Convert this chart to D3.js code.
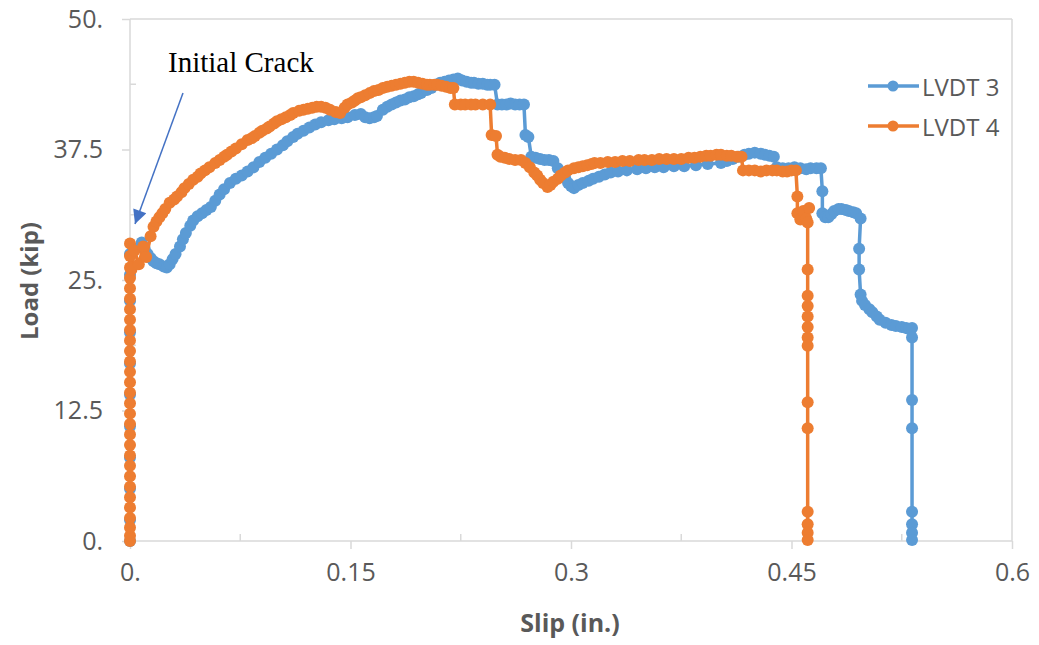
<!DOCTYPE html>
<html>
<head>
<meta charset="utf-8">
<script src="https://cdn.jsdelivr.net/npm/d3@7"></script>
<style>
body { margin: 0; background: #fff; }
text { font-family: "Open Sans", sans-serif; fill: #595959; }
</style>
</head>
<body>
<script>
// LVDT 3 (blue)
var slip3 = [0, 0, 0, 0, 0, 0, 0, 0, 0, 0, 0,
  0.003, 0.008, 0.010, 0.012, 0.014, 0.016, 0.018, 0.020, 0.023, 0.025, 0.027, 0.029, 0.031,
  0.034, 0.036, 0.038, 0.041, 0.043, 0.046, 0.049, 0.052, 0.055, 0.058, 0.061, 0.064, 0.068,
  0.072, 0.076, 0.080, 0.084, 0.088, 0.092, 0.096, 0.100, 0.104, 0.107, 0.111, 0.114, 0.118,
  0.122, 0.126, 0.130, 0.135, 0.139, 0.144, 0.148, 0.153, 0.157, 0.160, 0.163, 0.166, 0.168,
  0.172, 0.175, 0.178, 0.181, 0.184, 0.187, 0.190, 0.193, 0.196, 0.198, 0.202, 0.205, 0.208,
  0.211, 0.214, 0.217, 0.220, 0.223, 0.226, 0.229, 0.232, 0.234, 0.237, 0.240, 0.243, 0.245, 0.248,
  0.250, 0.253, 0.256, 0.259, 0.262, 0.265, 0.268, 0.269, 0.271, 0.273, 0.276, 0.279, 0.282, 0.285,
  0.288, 0.291, 0.293, 0.296, 0.298, 0.300, 0.302, 0.305, 0.308, 0.312, 0.315, 0.319, 0.323,
  0.327, 0.332, 0.338, 0.345, 0.351, 0.357, 0.363, 0.370, 0.377, 0.385, 0.393, 0.402, 0.406,
  0.410, 0.414, 0.418, 0.421, 0.425, 0.429, 0.432, 0.435, 0.438,
  0.440, 0.444, 0.448, 0.452, 0.456, 0.460, 0.463, 0.467, 0.470,
  0.471, 0.471, 0.473, 0.475, 0.477, 0.479, 0.482, 0.484, 0.487, 0.489, 0.492, 0.494, 0.497,
  0.496, 0.496, 0.497, 0.498, 0.500, 0.503, 0.505, 0.508, 0.510, 0.514, 0.518, 0.521, 0.525,
  0.528, 0.530, 0.532,
  0.532, 0.532, 0.532, 0.532, 0.532, 0.532, 0.532];
var load3 = [0, 2, 5, 8, 11, 14, 17, 20, 23, 25.5, 27.5,
  28.0, 28.6, 28.0, 27.5, 27.1, 26.8, 26.6, 26.5, 26.3, 26.2, 26.5, 27.0, 27.5,
  28.2, 28.9, 29.5, 30.2, 30.7, 31.1, 31.4, 31.7, 32.0, 32.6, 33.2, 33.7, 34.3,
  34.7, 35.0, 35.4, 35.8, 36.3, 36.7, 37.1, 37.5, 37.9, 38.3, 38.7, 39.0, 39.3,
  39.6, 39.9, 40.1, 40.3, 40.4, 40.5, 40.6, 40.8, 40.9, 40.6, 40.5, 40.6, 40.7,
  41.3, 41.6, 41.8, 42.0, 42.2, 42.3, 42.5, 42.6, 42.8, 42.9, 43.2, 43.4, 43.7,
  43.9, 44.0, 44.1, 44.2, 44.3, 44.1, 44.0, 43.9, 43.9, 43.8, 43.8, 43.7, 43.7, 43.7,
  41.8, 41.8, 41.8, 41.9, 41.8, 41.8, 41.8, 38.9, 38.7, 36.8, 36.7, 36.6, 36.5, 36.5,
  36.4, 35.7, 35.3, 34.8, 34.3, 34.0, 33.8, 34.1, 34.3, 34.5, 34.7, 34.9, 35.1,
  35.3, 35.4, 35.5, 35.6, 35.7, 35.8, 35.8, 35.9, 35.9, 36.0, 36.1, 36.2, 36.4,
  36.6, 36.8, 37.0, 37.1, 37.2, 37.1, 37.0, 36.9, 36.8,
  35.8, 35.7, 35.7, 35.8, 35.7, 35.6, 35.7, 35.7, 35.7,
  33.5, 31.4, 31.0, 31.0, 31.3, 31.6, 31.8, 31.8, 31.7, 31.6, 31.5, 31.4, 30.9,
  28.0, 26.0, 23.6, 23.0, 22.6, 22.2, 21.9, 21.5, 21.2, 20.9, 20.7, 20.6, 20.5,
  20.4, 20.3, 20.4,
  19.5, 13.5, 10.8, 2.8, 1.6, 0.8, 0.1];

// LVDT 4 (orange)
var slip4 = [0, 0, 0, 0, 0, 0, 0, 0, 0, 0, 0, 0, 0, 0, 0, 0, 0, 0, 0, 0,
  0, 0, 0, 0, 0, 0, 0, 0, 0, 0,
  0.001, 0.003, 0.006, 0.009, 0.011, 0.014, 0.016, 0.018, 0.020, 0.022, 0.024, 0.027, 0.030,
  0.032, 0.035, 0.037, 0.040, 0.043, 0.046, 0.048, 0.051, 0.054, 0.058, 0.061, 0.064, 0.066,
  0.069, 0.072, 0.076, 0.080, 0.083, 0.085, 0.088, 0.090, 0.093, 0.095, 0.098, 0.100, 0.103,
  0.106, 0.109, 0.111, 0.115, 0.118, 0.121, 0.124, 0.127, 0.130, 0.133, 0.136, 0.140, 0.143,
  0.146, 0.148, 0.151, 0.153, 0.155, 0.157, 0.160, 0.163, 0.166, 0.169, 0.172, 0.175, 0.178,
  0.181, 0.184, 0.187, 0.190, 0.193, 0.196, 0.199, 0.202, 0.204, 0.207, 0.209, 0.212, 0.215,
  0.218, 0.220,
  0.221, 0.225, 0.228, 0.232, 0.235, 0.240, 0.245, 0.246, 0.249, 0.250,
  0.252, 0.255, 0.258, 0.262, 0.266, 0.269, 0.272, 0.275, 0.277, 0.279, 0.281, 0.284, 0.286,
  0.288, 0.291, 0.293, 0.296, 0.298, 0.302, 0.305, 0.308, 0.311, 0.314, 0.316, 0.320, 0.325,
  0.330, 0.335, 0.340, 0.346, 0.350, 0.355, 0.360, 0.365, 0.370, 0.375, 0.380, 0.384, 0.388,
  0.392, 0.395, 0.399, 0.402, 0.406, 0.409, 0.413, 0.416,
  0.417, 0.421, 0.425, 0.429, 0.433, 0.437, 0.440, 0.444, 0.447, 0.450, 0.453,
  0.454, 0.454, 0.456, 0.458, 0.460, 0.462, 0.461,
  0.461, 0.461, 0.461, 0.461, 0.461, 0.461, 0.461, 0.461, 0.461, 0.461, 0.461, 0.461, 0.461];
var load4 = [0, 0.5, 1.3, 2.2, 3.2, 4.2, 5.2, 6.2, 7.2, 8.2, 9.2, 10.2, 11.2, 12.2, 13.2, 14.2,
  15.2, 16.2, 17.2, 18.2, 19.2, 20.2, 21.2, 22.2, 23.2, 24.2, 25.2, 26.2, 27.3, 28.5,
  26.0, 27.8, 26.5, 28.2, 27.2, 29.2, 30.1, 30.6, 31.0, 31.4, 31.8, 32.4, 32.7,
  33.0, 33.4, 33.8, 34.2, 34.6, 34.9, 35.2, 35.5, 35.8, 36.2, 36.5, 36.8, 37.0,
  37.3, 37.6, 38.0, 38.4, 38.6, 38.8, 39.1, 39.3, 39.5, 39.7, 40.0, 40.2, 40.4,
  40.6, 40.8, 41.0, 41.2, 41.3, 41.4, 41.5, 41.6, 41.6, 41.5, 41.3, 41.1, 41.0,
  41.5, 41.8, 42.0, 42.2, 42.4, 42.5, 42.7, 42.9, 43.1, 43.2, 43.4, 43.5, 43.6,
  43.7, 43.8, 43.9, 44.0, 44.0, 43.9, 43.8, 43.7, 43.7, 43.7, 43.7, 43.6, 43.5,
  43.4, 43.4,
  41.8, 41.8, 41.8, 41.8, 41.8, 41.8, 41.8, 38.9, 38.8, 37.0,
  36.8, 36.7, 36.6, 36.5, 36.5, 36.2, 35.8, 35.3, 35.0, 34.6, 34.3, 33.9, 34.1,
  34.4, 34.7, 35.0, 35.3, 35.5, 35.7, 35.8, 35.9, 36.0, 36.1, 36.2, 36.2, 36.3,
  36.3, 36.4, 36.4, 36.5, 36.5, 36.5, 36.6, 36.6, 36.6, 36.6, 36.7, 36.7, 36.8,
  36.9, 36.9, 37.0, 37.0, 36.9, 36.9, 36.8, 36.8,
  35.5, 35.5, 35.5, 35.4, 35.5, 35.5, 35.5, 35.4, 35.4, 35.5, 35.5,
  33.0, 31.4, 30.8, 31.6, 30.9, 31.9, 30.5,
  26.0, 23.5, 22.5, 21.5, 20.5, 19.5, 18.7, 13.3, 10.8, 2.8, 1.6, 0.8, 0.1];

var seriesNames = ["LVDT 3", "LVDT 4"];
var seriesColors = ["#5b9bd5", "#ed7d31"];
var xTicks = [0, 0.15, 0.3, 0.45, 0.6];
var xTickLabels = ["0.", "0.15", "0.3", "0.45", "0.6"];
var xMinorTicks = [0.075, 0.225, 0.375, 0.525];
var yTicks = [0, 12.5, 25, 37.5, 50];
var yTickLabels = ["0.", "12.5", "25.", "37.5", "50."];
var yMinorTicks = [6.25, 18.75, 31.25, 43.75];

var width = 1039, height = 645;
var svg = d3.select("body").append("svg")
  .attr("width", width).attr("height", height);

var x = d3.scaleLinear().domain([0, 0.6]).range([130, 1012]);
var y = d3.scaleLinear().domain([0, 50]).range([541, 19]);

var gridColor = "#d9d9d9";

// frame (top + right)
svg.append("line").attr("x1", x(0)).attr("x2", x(0.6)).attr("y1", y(50)).attr("y2", y(50))
  .attr("stroke", gridColor).attr("stroke-width", 1.5);
svg.append("line").attr("x1", x(0.6)).attr("x2", x(0.6)).attr("y1", y(50)).attr("y2", y(0))
  .attr("stroke", gridColor).attr("stroke-width", 1.5);

// y axis
var yAxis = svg.append("g").attr("transform", "translate(" + x(0) + ",0)")
  .call(d3.axisLeft(y).tickValues(yTicks).tickSize(8).tickFormat(function(d, i){ return yTickLabels[i]; }));
yAxis.selectAll("text").attr("x", -27).style("font-size", "25px").attr("fill", "#595959");
yAxis.append("g").selectAll("line").data(yMinorTicks).enter().append("line")
  .attr("x1", 0).attr("x2", 6).attr("y1", function(d){ return y(d); }).attr("y2", function(d){ return y(d); });

// x axis
var xAxis = svg.append("g").attr("transform", "translate(0," + y(0) + ")")
  .call(d3.axisBottom(x).tickValues(xTicks).tickSize(8).tickFormat(function(d, i){ return xTickLabels[i]; }));
xAxis.selectAll("text").attr("y", 22).style("font-size", "25px").attr("fill", "#595959");
xAxis.append("g").selectAll("line").data(xMinorTicks).enter().append("line")
  .attr("y1", 0).attr("y2", -7).attr("x1", function(d){ return x(d); }).attr("x2", function(d){ return x(d); });

svg.selectAll(".tick line").attr("stroke", gridColor).attr("stroke-width", 1.5);
xAxis.selectAll("g line").attr("stroke", gridColor).attr("stroke-width", 1.5);
yAxis.selectAll("g line").attr("stroke", gridColor).attr("stroke-width", 1.5);
svg.selectAll(".domain").remove();
svg.append("line").attr("x1", x(0)).attr("x2", x(0)).attr("y1", y(50)).attr("y2", y(0))
  .attr("stroke", gridColor).attr("stroke-width", 1.5);
svg.append("line").attr("x1", x(0)).attr("x2", x(0.6)).attr("y1", y(0)).attr("y2", y(0))
  .attr("stroke", gridColor).attr("stroke-width", 1.5);

// axis titles
svg.append("text").attr("transform", "translate(28,281) rotate(-90)")
  .attr("text-anchor", "middle").attr("dominant-baseline", "central")
  .style("font-size", "24px").style("font-weight", "bold").text("Load (kip)");
svg.append("text").attr("x", 570).attr("y", 632).attr("text-anchor", "middle")
  .style("font-size", "25px").style("font-weight", "bold").text("Slip (in.)");

// series
var series = [
  {name: seriesNames[0], color: seriesColors[0], pts: slip3.map(function(s, i){ return [s, load3[i]]; })},
  {name: seriesNames[1], color: seriesColors[1], pts: slip4.map(function(s, i){ return [s, load4[i]]; })}
];

var line = d3.line().x(function(d){ return x(d[0]); }).y(function(d){ return y(d[1]); });

series.forEach(function(s){
  var g = svg.append("g");
  g.append("path").attr("d", line(s.pts)).attr("fill", "none")
    .attr("stroke", s.color).attr("stroke-width", 3.5).attr("stroke-linejoin", "round");
  g.selectAll("circle").data(s.pts).enter().append("circle")
    .attr("cx", function(d){ return x(d[0]); }).attr("cy", function(d){ return y(d[1]); })
    .attr("r", 6).attr("fill", s.color);
});

// legend
var legend = svg.append("g").selectAll(".legends").data(series).enter().append("g")
  .attr("transform", function(d, i){ return "translate(868," + (86 + i * 40) + ")"; });
legend.append("line").attr("x1", 0).attr("x2", 51).attr("stroke", function(d){ return d.color; }).attr("stroke-width", 3.5);
legend.append("circle").attr("cx", 25).attr("r", 5.5).attr("fill", function(d){ return d.color; });
legend.append("text").attr("x", 54).attr("dominant-baseline", "central")
  .style("font-size", "24px").text(function(d){ return d.name; });

// annotation
svg.append("defs").append("marker").attr("id", "arrow")
  .attr("viewBox", "0 0 10 10").attr("refX", 10).attr("refY", 5)
  .attr("markerWidth", 16).attr("markerHeight", 14).attr("orient", "auto")
  .attr("markerUnits", "userSpaceOnUse")
  .append("path").attr("d", "M0,0 L10,5 L0,10 Z").attr("fill", "#4472c4");
svg.append("line").attr("x1", 183).attr("y1", 93).attr("x2", 135).attr("y2", 224)
  .attr("stroke", "#4472c4").attr("stroke-width", 1.5).attr("marker-end", "url(#arrow)");
svg.append("text").attr("x", 168).attr("y", 72)
  .style("font-family", "'Liberation Serif', 'Times New Roman', serif").style("font-size", "29px")
  .style("fill", "#000").text("Initial Crack");
</script>
</body>
</html>
